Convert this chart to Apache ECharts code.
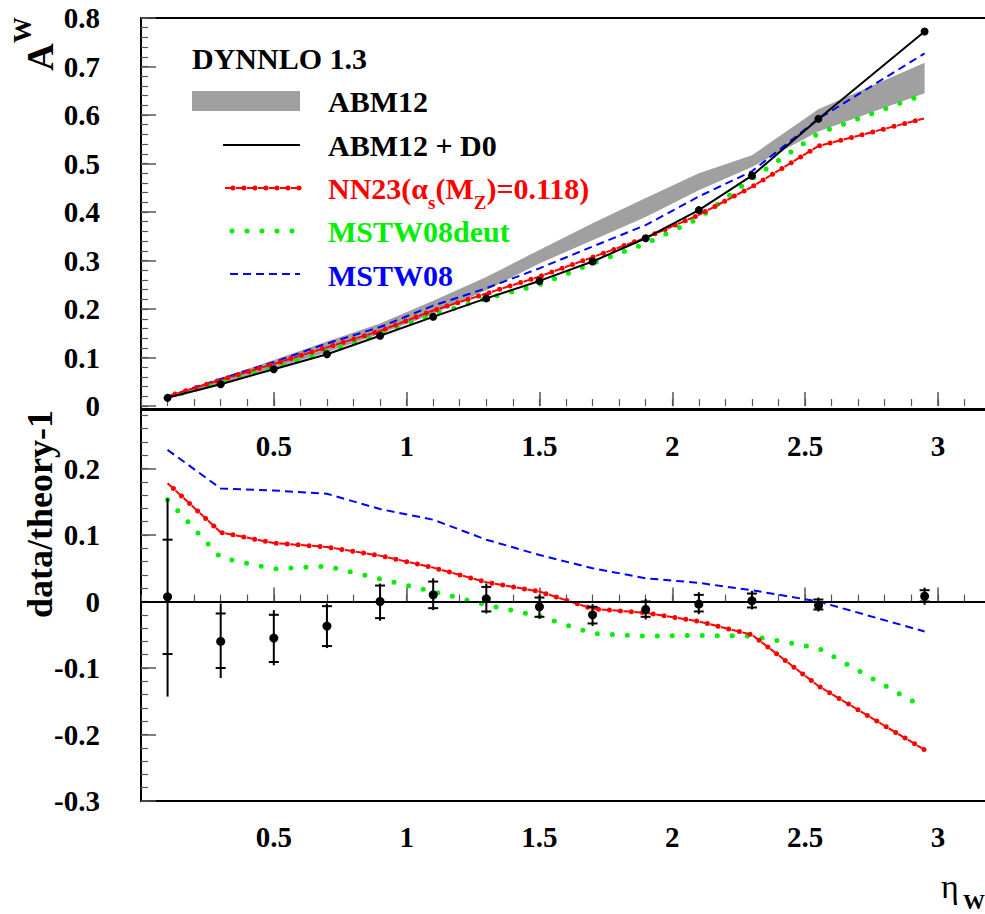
<!DOCTYPE html>
<html>
<head>
<meta charset="utf-8">
<script src="https://cdn.jsdelivr.net/npm/echarts@6/dist/echarts.min.js"></script>
<style>html,body{margin:0;padding:0;background:#fff;}#c{width:985px;height:914px;}</style>
</head>
<body>
<div id="c"></div>
<script>
// ---- data ----
const eta = [0.1,0.3,0.5,0.7,0.9,1.1,1.3,1.5,1.7,1.9,2.1,2.3,2.55,2.95];
// top panel: A^W
const abmD0      = [0.017,0.045,0.076,0.107,0.145,0.184,0.222,0.258,0.298,0.346,0.404,0.475,0.592,0.772];
const mstw08     = [0.020,0.056,0.091,0.129,0.163,0.207,0.243,0.284,0.329,0.373,0.432,0.484,0.592,0.727];
const nn23       = [0.020,0.054,0.087,0.121,0.155,0.197,0.232,0.267,0.307,0.347,0.394,0.452,0.536,0.593];
const mstw08deut = [0.018,0.050,0.080,0.114,0.148,0.189,0.222,0.250,0.294,0.335,0.387,0.469,0.562,0.643];
const abmLo      = [0.016,0.046,0.078,0.111,0.149,0.190,0.239,0.294,0.342,0.390,0.445,0.493,0.566,0.645];
const abmHi      = [0.022,0.058,0.095,0.133,0.170,0.217,0.266,0.322,0.377,0.429,0.480,0.517,0.612,0.708];
// bottom panel: data/theory-1
const rMSTW08     = [0.228,0.170,0.167,0.162,0.139,0.123,0.093,0.070,0.050,0.035,0.028,0.017,0.000,-0.045];
const rNN23       = [0.178,0.104,0.088,0.082,0.069,0.051,0.029,0.015,-0.011,-0.017,-0.030,-0.050,-0.127,-0.223];
const rMSTW08deut = [0.153,0.066,0.049,0.053,0.034,0.015,-0.005,-0.022,-0.048,-0.052,-0.051,-0.052,-0.070,-0.160];
const rData  = [0.007,-0.060,-0.055,-0.037,0.000,0.010,0.004,-0.008,-0.020,-0.012,-0.004,0.001,-0.004,0.009];
const statHi = [0.093,-0.018,-0.020,-0.007,0.024,0.030,0.022,0.006,-0.008,0.000,0.010,0.012,0.003,0.017];
const statLo = [-0.079,-0.100,-0.091,-0.067,-0.025,-0.010,-0.015,-0.023,-0.033,-0.023,-0.015,-0.009,-0.012,0.000];
const totHi  = [0.155,-0.003,-0.013,-0.003,0.027,0.035,0.027,0.010,-0.004,0.004,0.014,0.016,0.006,0.021];
const totLo  = [-0.143,-0.115,-0.096,-0.070,-0.029,-0.013,-0.018,-0.026,-0.037,-0.027,-0.019,-0.012,-0.015,-0.005];
// tick labels
const xTickLabels = [0.5,1,1.5,2,2.5,3];
const yTopLabels = [0,0.1,0.2,0.3,0.4,0.5,0.6,0.7,0.8];
const yBotLabels = [-0.3,-0.2,-0.1,0,0.1,0.2];

// ---- helpers ----
function steps(a, b, s){ const r=[]; for(let v=a; v<=b+1e-9; v+=s) r.push(Math.round(v*1000)/1000); return r; }
const xMinor = steps(0, 3.2, 0.1);
const yTopMinor = steps(0, 0.8, 0.02);
const yBotMinor = steps(-0.3, 0.28, 0.02);
const pair = (ys) => eta.map((x,i)=>[x, ys[i]]);

const SERIF = 'Liberation Serif';
const labelStyle = {color:'#000', fontFamily:SERIF, fontWeight:'bold', fontSize:29};
const tickColor = '#555';
const fmt = v => String(+(+v).toFixed(2));

const XMAX = 3.2;
const gTop = {left:141, top:18, width:850, height:391};
const gBot = {left:141, top:410, width:850, height:391};

function xMajor(gi, margin){
  return {type:'value', gridIndex:gi, min:0, max:XMAX, position:'bottom',
    axisLine:{show:false}, splitLine:{show:false},
    axisTick:{show:true, inside:true, length:14, customValues:xTickLabels, lineStyle:{color:tickColor,width:1.5}},
    axisLabel:{show:true, customValues:xTickLabels, margin:margin, formatter:fmt, ...labelStyle}};
}
function xMin(gi){
  return {type:'value', gridIndex:gi, min:0, max:XMAX, position:'bottom',
    axisLine:{show:false}, splitLine:{show:false}, axisLabel:{show:false},
    axisTick:{show:true, inside:true, length:7, customValues:xMinor, lineStyle:{color:tickColor,width:1.2}}};
}
function yMajor(gi, mn, mx, labels){
  return {type:'value', gridIndex:gi, min:mn, max:mx, position:'left',
    axisLine:{show:false}, splitLine:{show:false},
    axisTick:{show:true, inside:true, length:15, customValues:labels, lineStyle:{color:tickColor,width:1.5}},
    axisLabel:{show:true, customValues:labels, margin:41, formatter:fmt, ...labelStyle}};
}
function yMin(gi, mn, mx, vals){
  return {type:'value', gridIndex:gi, min:mn, max:mx, position:'left',
    axisLine:{show:false}, splitLine:{show:false}, axisLabel:{show:false},
    axisTick:{show:true, inside:true, length:7, customValues:vals, lineStyle:{color:tickColor,width:1.2}}};
}

const RED='#ff0000', GREEN='#00ee00', BLUE='#0000ff';
const noSym = {showSymbol:false, symbol:'none', silent:true};
const redDash = {color:RED, width:2, type:[6,5]};
const redDots = {color:RED, width:5, type:[0,11], dashOffset:2.5, cap:'round'};

const bandData = eta.map((x,i)=>[x, abmLo[i], abmHi[i]]);
const errData = eta.map((x,i)=>[x, rData[i], statHi[i], statLo[i], totHi[i], totLo[i]]);

const LF = 30; // legend font size
const chart = echarts.init(document.getElementById('c'), null, {renderer:'svg'});
chart.setOption({
  animation:false,
  backgroundColor:'#fff',
  grid:[
    Object.assign({show:true, borderColor:'#000', borderWidth:2, backgroundColor:'transparent', containLabel:false, outerBoundsMode:'none'}, gTop),
    Object.assign({show:true, borderColor:'#000', borderWidth:2, backgroundColor:'transparent', containLabel:false, outerBoundsMode:'none'}, gBot)
  ],
  xAxis:[ xMajor(0, 22), xMin(0), xMajor(1, 21), xMin(1) ],
  yAxis:[ yMajor(0, -0.006, 0.8, yTopLabels), yMin(0, -0.006, 0.8, yTopMinor),
          yMajor(1, -0.3, 0.288, yBotLabels), yMin(1, -0.3, 0.288, yBotMinor) ],
  series:[
    // ABM12 band: polygon through lower edge then upper edge (reversed)
    {type:'custom', name:'ABM12', xAxisIndex:0, yAxisIndex:0, data:bandData, z:1, silent:true,
      dimensions:['x','lo','hi'], encode:{x:0, y:[1,2]},
      renderItem:function(params, api){
        if (params.dataIndexInside !== 0) return null;
        const n = params.dataInsideLength;
        const lower = [], upper = [];
        for (let i=0;i<n;i++){
          const x = api.value(0, i);
          lower.push(api.coord([x, api.value(1, i)]));
          upper.push(api.coord([x, api.value(2, i)]));
        }
        return {type:'polygon', shape:{points: lower.concat(upper.reverse())}, style:{fill:'#a0a0a0'}};
      }},
    Object.assign({type:'line', name:'MSTW08', xAxisIndex:0, yAxisIndex:0, data:pair(mstw08),
      lineStyle:{color:BLUE, width:2, type:[8,5]}, z:3}, noSym),
    Object.assign({type:'line', name:'MSTW08deut', xAxisIndex:0, yAxisIndex:0, data:pair(mstw08deut),
      lineStyle:{color:GREEN, width:5, type:[0,15], cap:'round'}, z:3}, noSym),
    Object.assign({type:'line', name:'NN23', xAxisIndex:0, yAxisIndex:0, data:pair(nn23),
      lineStyle:redDash, z:4}, noSym),
    Object.assign({type:'line', name:'NN23 dots', xAxisIndex:0, yAxisIndex:0, data:pair(nn23),
      lineStyle:redDots, z:4}, noSym),
    {type:'line', name:'ABM12 + D0', xAxisIndex:0, yAxisIndex:0, data:pair(abmD0),
      symbol:'circle', symbolSize:8, showSymbol:true, silent:true,
      itemStyle:{color:'#000'}, lineStyle:{color:'#000', width:2}, z:5},

    // bottom panel
    Object.assign({type:'line', name:'r MSTW08', xAxisIndex:2, yAxisIndex:2, data:pair(rMSTW08),
      lineStyle:{color:BLUE, width:2, type:[8,5]}, z:3,
      markLine:{silent:true, symbol:'none', label:{show:false}, lineStyle:{color:'#000', width:2, type:'solid'},
        data:[{yAxis:0}]}}, noSym),
    Object.assign({type:'line', name:'r MSTW08deut', xAxisIndex:2, yAxisIndex:2, data:pair(rMSTW08deut),
      lineStyle:{color:GREEN, width:5, type:[0,15], cap:'round'}, z:3}, noSym),
    Object.assign({type:'line', name:'r NN23', xAxisIndex:2, yAxisIndex:2, data:pair(rNN23),
      lineStyle:redDash, z:4}, noSym),
    Object.assign({type:'line', name:'r NN23 dots', xAxisIndex:2, yAxisIndex:2, data:pair(rNN23),
      lineStyle:redDots, z:4}, noSym),
    {type:'custom', name:'data', xAxisIndex:2, yAxisIndex:2, data:errData, z:6, silent:true,
      dimensions:['x','y','sh','sl','th','tl'], encode:{x:0, y:1},
      renderItem:function(params, api){
        const x = api.value(0);
        const p  = api.coord([x, api.value(1)]);
        const sh = api.coord([x, api.value(2)]), sl = api.coord([x, api.value(3)]);
        const th = api.coord([x, api.value(4)]), tl = api.coord([x, api.value(5)]);
        const st = {stroke:'#000', lineWidth:2};
        return {type:'group', children:[
          {type:'line', shape:{x1:p[0], y1:th[1], x2:p[0], y2:tl[1]}, style:st},
          {type:'line', shape:{x1:p[0]-5, y1:sh[1], x2:p[0]+5, y2:sh[1]}, style:st},
          {type:'line', shape:{x1:p[0]-5, y1:sl[1], x2:p[0]+5, y2:sl[1]}, style:st},
          {type:'circle', shape:{cx:p[0], cy:p[1], r:4.5}, style:{fill:'#000'}}
        ]};
      }}
  ],
  graphic:[
    // axis titles
    {type:'text', z:100, x:40, y:57, rotation:Math.PI/2, style:{text:'A', fontFamily:SERIF, fontWeight:'bold', fontSize:38, fill:'#000', align:'center', verticalAlign:'middle'}},
    {type:'text', z:100, x:22, y:30, rotation:Math.PI/2, style:{text:'W', fontFamily:SERIF, fontWeight:'bold', fontSize:26, fill:'#000', align:'center', verticalAlign:'middle'}},
    {type:'text', z:100, x:40, y:514, rotation:Math.PI/2, style:{text:'data/theory-1', fontFamily:SERIF, fontWeight:'bold', fontSize:36, fill:'#000', align:'center', verticalAlign:'middle'}},
    {type:'text', z:100, x:941, y:886, style:{text:'η', fontFamily:SERIF, fontSize:34, fill:'#000', align:'left', verticalAlign:'middle'}},
    {type:'text', z:100, x:963, y:901, style:{text:'W', fontFamily:SERIF, fontWeight:'bold', fontSize:22, fill:'#000', align:'left', verticalAlign:'middle'}},
    // legend
    {type:'text', z:100, x:192, y:58, style:{text:'DYNNLO 1.3', fontFamily:SERIF, fontWeight:'bold', fontSize:LF, fill:'#000', align:'left', verticalAlign:'middle'}},
    {type:'rect', z:100, shape:{x:192, y:91, width:108, height:20}, style:{fill:'#a0a0a0'}},
    {type:'text', z:100, x:328, y:101, style:{text:'ABM12', fontFamily:SERIF, fontWeight:'bold', fontSize:LF, fill:'#000', align:'left', verticalAlign:'middle'}},
    {type:'line', z:100, shape:{x1:223, y1:145, x2:300, y2:145}, style:{stroke:'#000', lineWidth:2}},
    {type:'text', z:100, x:328, y:145, style:{text:'ABM12 + D0', fontFamily:SERIF, fontWeight:'bold', fontSize:LF, fill:'#000', align:'left', verticalAlign:'middle'}},
    {type:'line', z:100, shape:{x1:225, y1:188, x2:300, y2:188}, style:{stroke:RED, lineWidth:2, lineDash:[6,5]}},
    {type:'line', z:100, shape:{x1:225, y1:188, x2:300, y2:188}, style:{stroke:RED, lineWidth:5, lineDash:[0,11], lineDashOffset:2.5, lineCap:'round'}},
    {type:'text', z:100, x:328, y:188, style:{
      text:'{a|NN23(α}{s|s}{a|(M}{s|Z}{a|)=0.118)}', fontFamily:SERIF, fontWeight:'bold', fontSize:LF, fill:RED,
      align:'left', verticalAlign:'middle',
      rich:{a:{fontFamily:SERIF, fontWeight:'bold', fontSize:LF, fill:RED, lineHeight:48, verticalAlign:'middle'},
            s:{fontFamily:SERIF, fontWeight:'bold', fontSize:19, fill:RED, lineHeight:48, verticalAlign:'bottom'}}}},
    {type:'line', z:100, shape:{x1:232, y1:231, x2:300, y2:231}, style:{stroke:GREEN, lineWidth:5, lineDash:[0,15], lineCap:'round'}},
    {type:'text', z:100, x:328, y:231, style:{text:'MSTW08deut', fontFamily:SERIF, fontWeight:'bold', fontSize:LF, fill:GREEN, align:'left', verticalAlign:'middle'}},
    {type:'line', z:100, shape:{x1:230, y1:274, x2:300, y2:274}, style:{stroke:BLUE, lineWidth:2, lineDash:[8,5]}},
    {type:'text', z:100, x:328, y:275, style:{text:'MSTW08', fontFamily:SERIF, fontWeight:'bold', fontSize:LF, fill:BLUE, align:'left', verticalAlign:'middle'}}
  ]
});
</script>
</body>
</html>
